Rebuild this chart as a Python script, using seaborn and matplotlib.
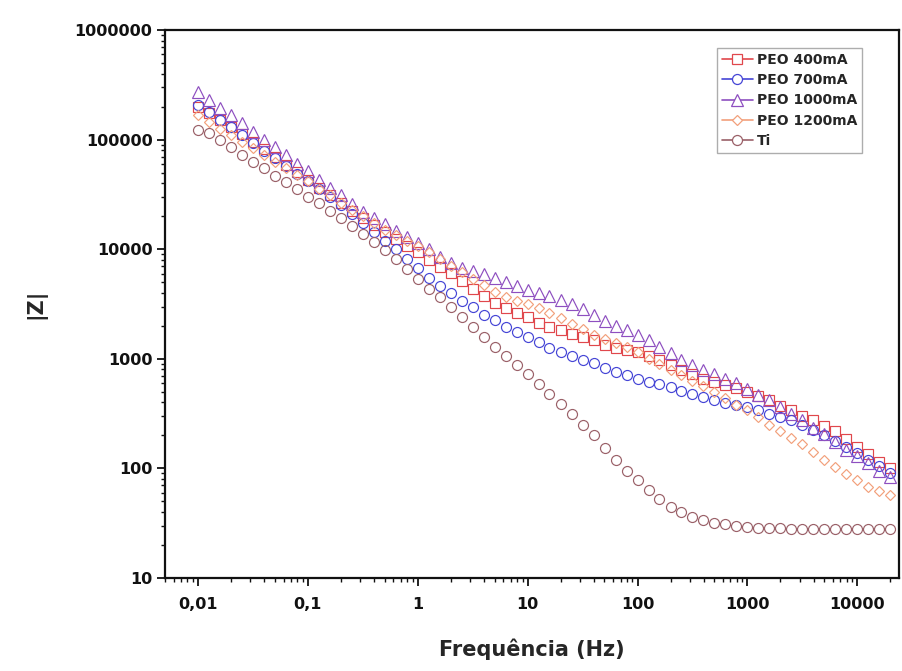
import matplotlib
matplotlib.use("Agg")
import matplotlib.pyplot as plt
import matplotlib.ticker as mticker
from matplotlib.lines import Line2D
import seaborn as sns

# frequency (Hz), 10 points per decade
freq = [0.01, 0.0126, 0.0158, 0.02, 0.0251, 0.0316, 0.0398, 0.0501, 0.0631, 0.0794,
        0.1, 0.126, 0.158, 0.2, 0.251, 0.316, 0.398, 0.501, 0.631, 0.794,
        1, 1.26, 1.58, 2, 2.51, 3.16, 3.98, 5.01, 6.31, 7.94,
        10, 12.6, 15.8, 20, 25.1, 31.6, 39.8, 50.1, 63.1, 79.4,
        100, 126, 158, 200, 251, 316, 398, 501, 631, 794,
        1000, 1260, 1580, 2000, 2510, 3160, 3980, 5010, 6310, 7940,
        10000, 12600, 15800, 20000]

z_peo400 = [200000, 174000, 151000, 129000, 112000, 95500, 81300, 69200, 58900, 50100,
            42700, 36300, 30900, 26300, 22400, 19100, 16600, 14500, 12300, 10700,
            9330, 7940, 6920, 6030, 5130, 4370, 3720, 3240, 2880, 2630,
            2400, 2140, 1950, 1820, 1700, 1580, 1480, 1350, 1260, 1200,
            1150, 1070, 977, 871, 794, 724, 661, 617, 575, 537,
            501, 457, 417, 372, 339, 302, 275, 245, 219, 186,
            158, 135, 115, 100]

z_peo700 = [209000, 178000, 151000, 129000, 110000, 93300, 79400, 67600, 57500, 49000,
            41700, 35500, 30200, 25100, 20900, 17400, 14500, 12000, 10000, 8130,
            6760, 5500, 4570, 3980, 3390, 2950, 2510, 2240, 1950, 1740,
            1580, 1410, 1260, 1150, 1070, 977, 912, 832, 759, 708,
            661, 617, 589, 550, 513, 479, 447, 417, 398, 380,
            363, 339, 316, 295, 275, 251, 224, 200, 178, 158,
            138, 120, 105, 91.2]

z_peo1000 = [269000, 229000, 195000, 166000, 141000, 117500, 100000, 85100, 72400, 60300,
             51300, 42700, 36300, 30900, 25700, 21900, 19100, 17000, 14800, 12900,
             11500, 10000, 8510, 7410, 6760, 6310, 5890, 5500, 5010, 4570,
             4270, 3980, 3720, 3470, 3160, 2820, 2510, 2190, 2000, 1820,
             1660, 1480, 1290, 1120, 977, 871, 794, 724, 661, 603,
             525, 468, 417, 363, 316, 275, 234, 204, 174, 148,
             129, 112, 95.5, 83.2]

z_peo1200 = [166000, 145000, 126000, 110000, 95500, 83200, 72400, 63100, 55000, 47900,
             41700, 35500, 30900, 26300, 22900, 20000, 17400, 15100, 13500, 12000,
             10700, 9330, 8130, 7080, 6170, 5370, 4680, 4070, 3630, 3390,
             3160, 2880, 2630, 2340, 2090, 1860, 1660, 1510, 1380, 1290,
             1150, 1000, 891, 794, 708, 631, 562, 501, 437, 380,
             339, 295, 251, 219, 191, 166, 141, 120, 102, 89.1,
             77.6, 67.6, 61.7, 57.5]

z_ti = [123000, 114800, 100000, 85100, 72400, 63100, 55000, 46800, 40700, 35500,
        30200, 26300, 22400, 19100, 16200, 13800, 11700, 9770, 8130, 6610,
        5370, 4370, 3630, 2950, 2400, 1950, 1580, 1290, 1050, 871,
        724, 589, 479, 389, 316, 251, 200, 155, 120, 95.5,
        77.6, 63.1, 52.5, 44.7, 39.8, 36.3, 33.9, 31.6, 30.9, 29.9,
        29.2, 28.8, 28.5, 28.3, 28.2, 28.2, 28.1, 28.2, 28.2, 28.1,
        28.2, 28.2, 28.1, 28.2]

labels = ["PEO 400mA", "PEO 700mA", "PEO 1000mA", "PEO 1200mA", "Ti"]
series = [z_peo400, z_peo700, z_peo1000, z_peo1200, z_ti]
colors = ["#E0474C", "#4545D6", "#8E4FC0", "#F2A07B", "#9A6068"]
markers = ["s", "o", "^", "D", "o"]
msizes = [7, 7.2, 8, 5.6, 7.2]

x_ticks = [0.01, 0.1, 1, 10, 100, 1000, 10000]
y_ticks = [10, 100, 1000, 10000, 100000, 1000000]

sns.set_style("ticks")
plt.rcParams["font.family"] = ["DejaVu Sans"]
plt.rcParams["font.weight"] = "bold"

fig = plt.figure(figsize=(9.03, 6.71), dpi=100)
ax = fig.add_axes([0.1827, 0.1386, 0.8129, 0.8167])

for lab, vals, c, m, ms in zip(labels, series, colors, markers, msizes):
    sns.lineplot(x=freq, y=vals, ax=ax, color=c, marker=m, markersize=ms,
                 markerfacecolor="none", markeredgecolor=c, markeredgewidth=0.85,
                 linestyle="none", legend=False)

ax.set_xscale("log")
ax.set_yscale("log")
ax.set_xlim(0.005, 24000)
ax.set_ylim(10, 1000000)

ax.xaxis.set_major_locator(mticker.FixedLocator(x_ticks))
ax.yaxis.set_major_locator(mticker.FixedLocator(y_ticks))
ax.xaxis.set_minor_locator(mticker.LogLocator(base=10, subs=range(2, 10), numticks=12))
ax.yaxis.set_minor_locator(mticker.LogLocator(base=10, subs=range(2, 10), numticks=12))
ax.set_xticklabels([f"{v:g}".replace(".", ",") for v in x_ticks])
ax.set_yticklabels([f"{v:.0f}" for v in y_ticks])
ax.xaxis.set_minor_formatter(mticker.NullFormatter())
ax.yaxis.set_minor_formatter(mticker.NullFormatter())

ax.tick_params(which="major", direction="out", length=6, width=1.3, labelsize=11.5, colors="#111111")
ax.tick_params(which="minor", direction="out", length=3, width=1.0, colors="#111111")
ax.tick_params(axis="x", which="major", pad=8)
ax.tick_params(axis="y", which="major", pad=3)
for sp in ax.spines.values():
    sp.set_linewidth(1.6)
    sp.set_color("#111111")

ax.set_xlabel("Frequência (Hz)", fontsize=15, fontweight="bold")
ax.set_ylabel("|Z|", fontsize=15, fontweight="bold")
ax.xaxis.set_label_coords(0.5, -0.11)
ax.yaxis.set_label_coords(-0.162, 0.5)

handles = [Line2D([], [], color=c, marker=m, markersize=ms, markerfacecolor="white",
                  markeredgecolor=c, markeredgewidth=0.9, linewidth=1.2)
           for c, m, ms in zip(colors, markers, msizes)]
leg = ax.legend(handles, labels, loc="upper right", bbox_to_anchor=(0.9496, 0.967),
                borderaxespad=0, fancybox=False, frameon=True, fontsize=10,
                handlelength=2.2, handletextpad=0.3, labelspacing=0.45, borderpad=0.35)
leg.get_frame().set_edgecolor("#999999")
leg.get_frame().set_linewidth(1.0)
for t in leg.get_texts():
    t.set_fontweight("bold")

fig.savefig("out.png", dpi=100, facecolor="white")
